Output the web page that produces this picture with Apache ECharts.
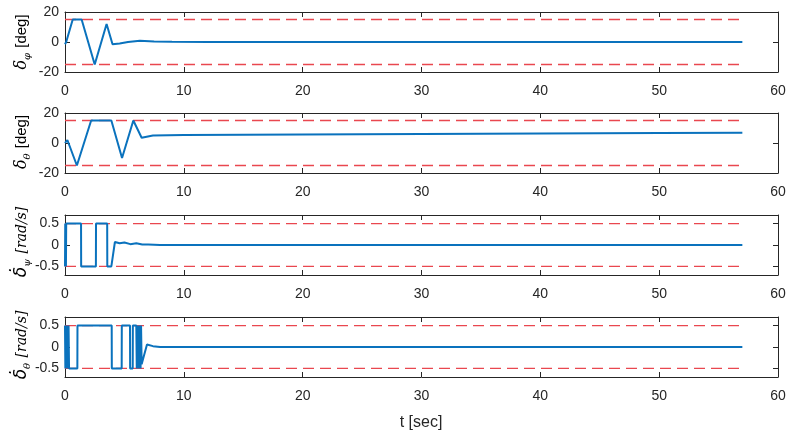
<!DOCTYPE html>
<html>
<head>
<meta charset="utf-8">
<script src="https://cdn.jsdelivr.net/npm/echarts@6/dist/echarts.min.js"></script>
<style>
html,body{margin:0;padding:0;background:#fff;}
#c{width:789px;height:438px;}
</style>
</head>
<body>
<div id="c"></div>
<script>
// ---- data ----
var xTicks = [0, 10, 20, 30, 40, 50, 60];
var tEnd = 57;
var limDeg = 15;
var limRate = 0.5;

var t1 = [0, 0.1, 0.65, 1.4, 2.5, 3.5, 4.0, 4.6, 5.3, 6.3, 7.5, 9, 12, 57];
var phiDeg = [-1.5, 0, 15, 15, -15, 12, -1.5, -1, 0, 0.8, 0.4, 0.1, 0, 0];

var t2 = [0, 0.2, 1.0, 2.2, 3.9, 4.8, 5.75, 6.45, 7.4, 10, 20, 30, 40, 50, 57];
var thetaDeg = [0, 2, -15, 15, 15, -10, 15, 3.5, 5, 5.3, 5.6, 6, 6.3, 6.6, 6.8];

var t3 = [0, 0.02, 0.04, 0.06, 0.08, 0.1, 0.12, 1.35, 1.36, 2.6, 2.61, 3.55, 3.56, 3.9, 4.2, 4.6, 5.0, 5.5, 6.0, 6.5, 7.0, 8, 57];
var psiRate = [-0.5, 0.5, -0.5, 0.5, -0.5, 0.5, 0.5, 0.5, -0.5, -0.5, 0.5, 0.5, -0.5, -0.5, 0.07, 0.04, 0.06, 0.02, 0.04, 0.01, 0.01, 0, 0];

var t4 = [0, 0.03, 0.06, 0.09, 0.12, 0.15, 0.18, 0.21, 0.24, 0.27, 0.3, 0.34, 1.04, 1.05, 3.93, 3.94, 4.77, 4.78, 5.47, 5.48, 5.7, 5.71, 6.0, 6.04, 6.08, 6.12, 6.16, 6.2, 6.24, 6.28, 6.32, 6.36, 6.4, 6.45, 6.9, 7.4, 8, 57];
var thetaRate = [0.5, -0.5, 0.5, -0.5, 0.5, -0.5, 0.5, -0.5, 0.5, -0.5, 0.5, -0.5, -0.5, 0.5, 0.5, -0.5, -0.5, 0.5, 0.5, -0.5, -0.5, 0.5, 0.5, -0.5, 0.5, -0.5, 0.5, -0.5, 0.5, -0.5, 0.5, -0.5, 0.5, -0.4, 0.06, 0.02, 0, 0];

var yTicksDeg = [-20, 0, 20];
var yTicksRate = [-0.5, 0, 0.5];

// ---- build ----
function pairs(t, v) { return t.map(function (x, i) { return [x, v[i]]; }); }

var axisCol = '#262626';
var font = 'Liberation Sans';
var grids = [
  {left: 65, top: 12, width: 713, height: 60},
  {left: 65, top: 113, width: 713, height: 60},
  {left: 65, top: 215, width: 713, height: 60},
  {left: 65, top: 317, width: 713, height: 60}
];
var panels = [
  {t: t1, v: phiDeg, lim: limDeg, min: -20, max: 20, ticks: yTicksDeg},
  {t: t2, v: thetaDeg, lim: limDeg, min: -20, max: 20, ticks: yTicksDeg},
  {t: t3, v: psiRate, lim: limRate, min: -0.7, max: 0.7, ticks: yTicksRate},
  {t: t4, v: thetaRate, lim: limRate, min: -0.7, max: 0.7, ticks: yTicksRate}
];

var xAxes = [], yAxes = [], series = [];
panels.forEach(function (p, i) {
  var lineStyle = {color: axisCol, width: 1};
  xAxes.push({
    type: 'value', gridIndex: i, position: 'bottom', min: 0, max: 60, interval: 10,
    axisLine: {show: true, onZero: false, lineStyle: lineStyle},
    axisTick: {show: true, inside: true, length: 5, lineStyle: lineStyle},
    axisLabel: {show: true, color: axisCol, fontFamily: font, fontSize: 14, margin: 12},
    splitLine: {show: false}
  });
  xAxes.push({
    type: 'value', gridIndex: i, position: 'top', min: 0, max: 60, interval: 10,
    axisLine: {show: true, onZero: false, lineStyle: lineStyle},
    axisTick: {show: true, inside: true, length: 5, lineStyle: lineStyle},
    axisLabel: {show: false}, splitLine: {show: false}
  });
  yAxes.push({
    type: 'value', gridIndex: i, position: 'left', min: p.min, max: p.max,
    axisLine: {show: true, onZero: false, lineStyle: lineStyle},
    axisTick: {show: true, inside: true, length: 5, lineStyle: lineStyle, customValues: p.ticks},
    axisLabel: {show: true, color: axisCol, fontFamily: font, fontSize: 14, margin: 6, customValues: p.ticks},
    splitLine: {show: false}
  });
  yAxes.push({
    type: 'value', gridIndex: i, position: 'right', min: p.min, max: p.max,
    axisLine: {show: true, onZero: false, lineStyle: lineStyle},
    axisTick: {show: true, inside: true, length: 5, lineStyle: lineStyle, customValues: p.ticks},
    axisLabel: {show: false, customValues: p.ticks}, splitLine: {show: false}
  });
  var red = {color: '#e9474f', width: 1.3, type: [11, 6]};
  series.push({
    type: 'line', xAxisIndex: 2 * i, yAxisIndex: 2 * i, data: [[0, p.lim], [tEnd, p.lim]],
    showSymbol: false, symbol: 'none', lineStyle: red, silent: true, animation: false, z: 1
  });
  series.push({
    type: 'line', xAxisIndex: 2 * i, yAxisIndex: 2 * i, data: [[0, -p.lim], [tEnd, -p.lim]],
    showSymbol: false, symbol: 'none', lineStyle: red, silent: true, animation: false, z: 1
  });
  series.push({
    type: 'line', xAxisIndex: 2 * i, yAxisIndex: 2 * i, data: pairs(p.t, p.v),
    showSymbol: false, symbol: 'none', lineStyle: {color: '#0a72bd', width: 2},
    silent: true, animation: false, z: 3
  });
});

var rich = {
  d: {fontFamily: 'DejaVu Serif', fontStyle: 'italic', fontSize: 16, color: axisCol, lineHeight: 20},
  e: {fontFamily: 'DejaVu Sans', fontStyle: 'italic', fontSize: 17, color: axisCol, lineHeight: 20},
  s: {fontFamily: 'DejaVu Serif', fontStyle: 'italic', fontSize: 10, color: axisCol, lineHeight: 10, padding: [10, 1, 0, 0]},
  n: {fontFamily: font, fontSize: 15, color: axisCol, lineHeight: 20},
  r: {fontFamily: 'DejaVu Serif', fontStyle: 'italic', fontSize: 14, color: axisCol, lineHeight: 20}
};
var yLabels = [
  {text: '{d|δ}{s|φ}{n| [deg]}', y: 42},
  {text: '{d|δ}{s|θ}{n| [deg]}', y: 142},
  {text: '{e|\u03B4\u0307}{s|ψ}{r| [rad/s]}', y: 242},
  {text: '{e|\u03B4\u0307}{s|θ}{r| [rad/s]}', y: 345}
];
var graphic = yLabels.map(function (l) {
  return {
    type: 'text', x: 22, y: l.y, rotation: Math.PI / 2,
    style: {text: l.text, rich: rich, align: 'center', verticalAlign: 'middle'}
  };
});
graphic.push({
  type: 'text', x: 421, y: 423,
  style: {text: 't [sec]', fontFamily: font, fontSize: 16, fill: axisCol, align: 'center', verticalAlign: 'middle'}
});

var chart = echarts.init(document.getElementById('c'), null, {renderer: 'canvas'});
chart.setOption({
  animation: false,
  backgroundColor: '#fff',
  grid: grids,
  xAxis: xAxes,
  yAxis: yAxes,
  series: series,
  graphic: graphic
});
</script>
</body>
</html>
